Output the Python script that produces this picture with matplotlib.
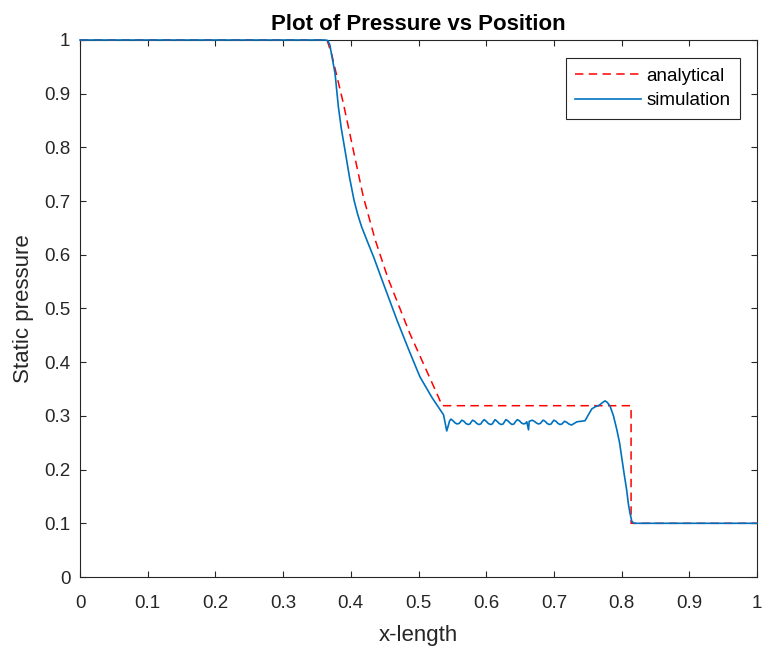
import numpy as np
import matplotlib
matplotlib.use("Agg")
import matplotlib.pyplot as plt

plt.rcParams['font.family'] = ['Liberation Sans', 'DejaVu Sans']

# analytical solution
x_analytical = [0.0, 0.365, 0.372, 0.389, 0.4037, 0.4185, 0.436, 0.455, 0.487, 0.527, 0.535, 0.814, 0.814, 1.0]
p_analytical = [1.0, 1.0, 0.972, 0.882, 0.795, 0.708, 0.628, 0.556, 0.454, 0.342, 0.319, 0.319, 0.1, 0.1]

# simulation: expansion part
x_sim_fan = [0.0, 0.362, 0.366, 0.369, 0.3767, 0.3816, 0.386, 0.3914, 0.398, 0.4047,
             0.410, 0.416, 0.4235, 0.434, 0.4456, 0.468, 0.485, 0.502, 0.520, 0.537, 0.5417]
p_sim_fan = [1.0, 1.0, 0.999, 0.991, 0.938, 0.876, 0.835, 0.795, 0.745, 0.702,
             0.676, 0.652, 0.628, 0.595, 0.555, 0.479, 0.425, 0.373, 0.334, 0.302, 0.272]

# simulation: plateau, bump and shock
x_sim_plateau = [0.544, 0.546, 0.548, 0.551, 0.554, 0.557, 0.560, 0.562,
                 0.564, 0.567, 0.570, 0.573, 0.576, 0.578,
                 0.580, 0.583, 0.586, 0.589, 0.592, 0.594,
                 0.597, 0.600, 0.603, 0.606, 0.609, 0.611,
                 0.613, 0.616, 0.619, 0.622, 0.625, 0.627,
                 0.629, 0.632, 0.635, 0.638, 0.641, 0.643,
                 0.646, 0.649, 0.652, 0.655, 0.658, 0.660, 0.6625, 0.6635,
                 0.666, 0.668, 0.671, 0.674, 0.677, 0.680, 0.682,
                 0.684, 0.687, 0.690, 0.693, 0.696, 0.698,
                 0.700, 0.703, 0.706, 0.709, 0.712, 0.714,
                 0.716, 0.719, 0.722, 0.726, 0.730, 0.734, 0.740, 0.746,
                 0.750, 0.756, 0.761, 0.766, 0.771, 0.7755, 0.779, 0.783,
                 0.788, 0.793, 0.797, 0.800, 0.804, 0.8075, 0.810, 0.8124,
                 0.815, 0.818, 1.0]
p_sim_plateau = [0.282, 0.291, 0.294, 0.291, 0.287, 0.285, 0.286, 0.289,
                 0.292, 0.290, 0.286, 0.284, 0.285, 0.289,
                 0.292, 0.290, 0.286, 0.284, 0.285, 0.289,
                 0.293, 0.290, 0.286, 0.284, 0.285, 0.289,
                 0.293, 0.290, 0.286, 0.284, 0.285, 0.289,
                 0.293, 0.291, 0.287, 0.284, 0.285, 0.289,
                 0.293, 0.291, 0.287, 0.285, 0.286, 0.289, 0.274, 0.290,
                 0.291, 0.292, 0.290, 0.287, 0.285, 0.286, 0.289,
                 0.292, 0.290, 0.286, 0.284, 0.285, 0.289,
                 0.292, 0.290, 0.286, 0.284, 0.285, 0.288,
                 0.290, 0.288, 0.285, 0.283, 0.286, 0.289, 0.290, 0.291,
                 0.300, 0.313, 0.317, 0.319, 0.324, 0.328, 0.325, 0.318,
                 0.300, 0.274, 0.250, 0.224, 0.190, 0.162, 0.136, 0.119,
                 0.104, 0.100, 0.100]

x_simulation = x_sim_fan + x_sim_plateau
p_simulation = p_sim_fan + p_sim_plateau

fig = plt.figure(figsize=(7.64, 6.47), dpi=100)
ax = fig.add_axes([80 / 764, 1 - 577 / 647, 677 / 764, 537 / 647])

ax.plot(x_analytical, p_analytical, '--', color='#FF0000', lw=1.1, dashes=(5.5, 3.5),
        label='analytical', clip_on=False, zorder=3)
ax.plot(x_simulation, p_simulation, '-', color='#0072BD', lw=1.2,
        label='simulation', clip_on=False, zorder=3)

ticks = np.arange(0, 1.01, 0.1)
tick_labels = ['0', '0.1', '0.2', '0.3', '0.4', '0.5', '0.6', '0.7', '0.8', '0.9', '1']
ax.set_xlim(0, 1)
ax.set_ylim(0, 1)
ax.set_xticks(ticks)
ax.set_yticks(ticks)
ax.set_xticklabels(tick_labels)
ax.set_yticklabels(tick_labels)
ax.tick_params(direction='in', top=True, right=True, labelsize=13.5, colors='#262626',
               length=4, width=0.8)
ax.tick_params(axis='x', pad=13)
ax.tick_params(axis='y', pad=7)
for s in ax.spines.values():
    s.set_color('#262626')
    s.set_linewidth(0.8)

ax.set_xlabel('x-length', fontsize=16, color='#262626', labelpad=9)
ax.set_ylabel('Static pressure', fontsize=16, color='#262626', labelpad=7)
ax.set_title('Plot of Pressure vs Position', fontsize=16, fontweight='bold', color='black', pad=7)

leg = ax.legend(loc='upper right', bbox_to_anchor=(0.975, 0.966), borderaxespad=0,
                fontsize=13.5, fancybox=False, framealpha=1, edgecolor='#262626',
                handlelength=3.5, borderpad=0.5, handletextpad=0.3, labelspacing=0.4)
leg.get_frame().set_linewidth(0.8)

fig.savefig('out.png', dpi=100)
